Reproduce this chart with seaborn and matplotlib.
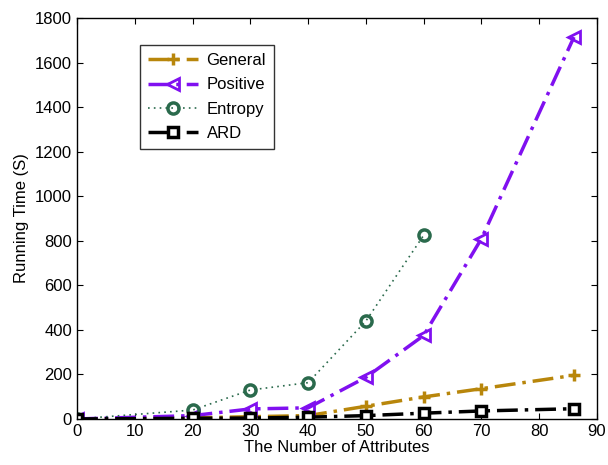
import matplotlib
matplotlib.use("Agg")
import matplotlib.pyplot as plt
import seaborn as sns
import pandas as pd

sns.set_style("ticks")
plt.rcParams['font.family'] = ['Liberation Sans', 'DejaVu Sans']
plt.rcParams.update({"text.color": "black", "axes.labelcolor": "black",
                     "xtick.color": "black", "ytick.color": "black", "axes.edgecolor": "black"})

x_all = [0, 20, 30, 40, 50, 60, 70, 86]
general = [0, 5, 10, 15, 57, 99, 136, 196]
positive = [0, 15, 45, 50, 187, 375, 810, 1715]
x_entropy = [0, 20, 30, 40, 50, 60]
entropy = [0, 40, 130, 163, 440, 825]
ard = [0, 3, 4, 8, 15, 26, 36, 46]

fig = plt.figure(figsize=(6.08, 4.65), dpi=100)
ax = fig.add_axes([0.1266, 0.099, 0.8554, 0.862])

specs = [
    ("General", x_all, general, "#b8860b", (0, (6, 2, 1, 2)), "+", dict(markersize=8, markeredgewidth=2.5)),
    ("Positive", x_all, positive, "#8010f0", (0, (6, 2, 1, 2)), "<", dict(markersize=9, markeredgewidth=2, markerfacecolor="none")),
    ("Entropy", x_entropy, entropy, "#2a6a4c", (0, (1, 2.5)), "o", dict(markersize=8, markeredgewidth=2.5, markerfacecolor="none")),
    ("ARD", x_all, ard, "black", (0, (6, 2, 1, 2)), "s", dict(markersize=7, markeredgewidth=2.5, markerfacecolor="white")),
]
for name, xs, ys, c, ls, mk, kw in specs:
    df = pd.DataFrame({"x": xs, "y": ys})
    sns.lineplot(data=df, x="x", y="y", ax=ax, color=c, linestyle=ls, linewidth=2.5 if name != "Entropy" else 1.2,
                 marker=mk, markeredgecolor=c, label=name, **kw)

ax.set_xlim(0, 90)
ax.set_ylim(0, 1800)
ax.set_xticks(range(0, 91, 10))
ax.set_yticks(range(0, 1801, 200))
ax.tick_params(direction="in", top=True, right=True, labelsize=12, length=4)
ax.set_xlabel("The Number of Attributes", fontsize=12, labelpad=1)
ax.set_ylabel("Running Time (S)", fontsize=12, labelpad=4)
for s in ax.spines.values():
    s.set_linewidth(1)
leg = ax.legend(loc="upper left", bbox_to_anchor=(0.121, 0.933), borderaxespad=0, fontsize=12, frameon=True,
                fancybox=False, edgecolor="black", handlelength=3, borderpad=0.5, labelspacing=0.55,
                handletextpad=0.5)
leg.get_frame().set_linewidth(1)
fig.savefig("out.png", dpi=100)
